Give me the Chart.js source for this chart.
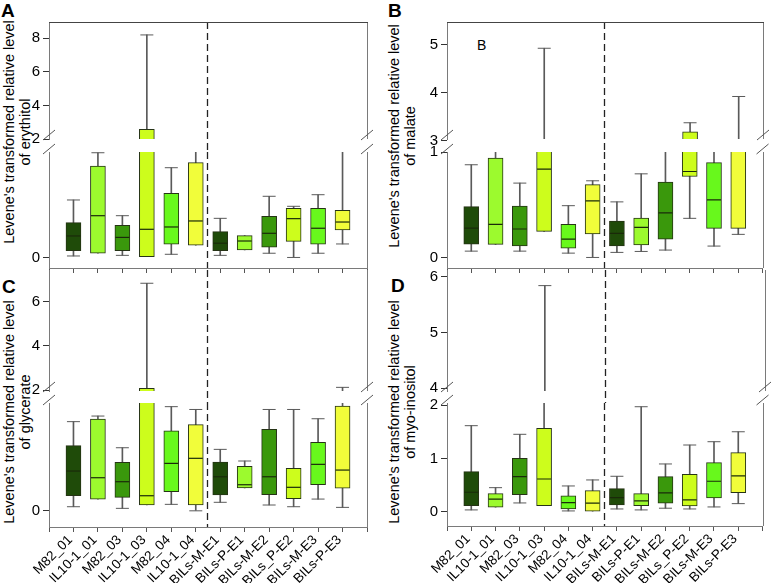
<!DOCTYPE html>
<html>
<head>
<meta charset="utf-8">
<script src="https://cdn.jsdelivr.net/npm/chart.js@4.4.0/dist/chart.umd.min.js"></script>
<style>
    body { margin: 0; background: #fff; }
    #page { position: relative; width: 774px; height: 583px; overflow: hidden; font-family: "Liberation Sans", Arial, sans-serif; color: #000; }
    #page canvas { position: absolute; }
    .letter { position: absolute; font-weight: bold; font-size: 19px; line-height: 19px; }
    .ytitle { position: absolute; width: 260px; height: 32px; text-align: center; font-size: 14.5px; line-height: 16px; transform: rotate(-90deg); white-space: nowrap; }
    .inlabel { position: absolute; font-size: 14px; }
</style>
</head>
<body>
<div id="page">
    <div class="letter" style="left:1px;top:1px;">A</div>
    <div class="letter" style="left:388px;top:1px;">B</div>
    <div class="letter" style="left:2px;top:277px;">C</div>
    <div class="letter" style="left:391px;top:276px;">D</div>
    <div class="ytitle" style="left:-113px;top:116px;">Levene's transformed relative level<br>of erythitol</div>
    <div class="ytitle" style="left:272px;top:120px;">Levene's transformed relative level<br>of malate</div>
    <div class="ytitle" style="left:-113px;top:396px;">Levene's transformed relative level<br>of glycerate</div>
    <div class="ytitle" style="left:272px;top:396px;">Levene's transformed relative level<br>of myo-inositol</div>
    <div class="inlabel" style="left:477px;top:37px;">B</div>
</div>
<script>
// categories and box colours
var categories = ["M82_01", "IL10-1_01", "M82_03", "IL10-1_03", "M82_04", "IL10-1_04",
    "BILs-M-E1", "BILs-P-E1", "BILs-M-E2", "BILs_P-E2", "BILs-M-E3", "BILs-P-E3"];
var boxColors = ["#1f4b09", "#9cfa2e", "#3a980c", "#cdfd1c", "#68f81c", "#f1fd3a",
    "#1f4b09", "#9cfa2e", "#3a980c", "#cdfd1c", "#68f81c", "#f1fd3a"];

// A - erythitol
var erythMin = [0.014, 0.04, 0.02, 0.008, 0.03, 0.116, 0.02, 0.071, 0.04, 0.0, 0.04, 0.128];
var erythQ1 = [0.065, 0.04, 0.065, 0.008, 0.125, 0.116, 0.065, 0.071, 0.097, 0.153, 0.125, 0.26];
var erythMed = [0.204, 0.396, 0.19, 0.267, 0.289, 0.346, 0.135, 0.156, 0.229, 0.368, 0.277, 0.336];
var erythQ3 = [0.33, 0.867, 0.305, 2.57, 0.608, 0.899, 0.245, 0.207, 0.39, 0.466, 0.466, 0.447];
var erythMax = [0.545, 0.993, 0.396, 8.2, 0.851, 1.5, 0.371, 0.207, 0.58, 0.485, 0.595, 1.5];
var erythLowTicks = [0];
var erythHighTicks = [2, 4, 6, 8];

// B - malate
var malateMin = [0.06, 0.124, 0.06, 0.248, 0.041, 0.0, 0.048, 0.057, 0.07, 0.371, 0.108, 0.219];
var malateQ1 = [0.127, 0.124, 0.11, 0.248, 0.089, 0.222, 0.11, 0.12, 0.174, 0.768, 0.276, 0.276];
var malateMed = [0.279, 0.314, 0.27, 0.838, 0.174, 0.536, 0.229, 0.286, 0.422, 0.815, 0.546, 1.4];
var malateQ3 = [0.482, 0.943, 0.486, 2.0, 0.314, 0.691, 0.346, 0.374, 0.714, 3.18, 0.9, 2.0];
var malateMax = [0.879, 1.5, 0.705, 4.93, 0.491, 0.727, 0.527, 0.793, 1.5, 3.37, 1.5, 3.92];
var malateLowTicks = [0, 1];
var malateHighTicks = [3, 4, 5];

// C - glycerate
var glycMin = [0.038, 0.109, 0.023, 0.054, 0.06, 0.0, 0.079, 0.212, 0.054, 0.038, 0.109, 0.032];
var glycQ1 = [0.14, 0.109, 0.125, 0.054, 0.177, 0.054, 0.147, 0.212, 0.15, 0.112, 0.242, 0.209];
var glycMed = [0.369, 0.307, 0.27, 0.14, 0.44, 0.487, 0.316, 0.242, 0.316, 0.218, 0.431, 0.378];
var glycQ3 = [0.604, 0.852, 0.45, 2.08, 0.743, 0.8, 0.453, 0.413, 0.756, 0.394, 0.635, 0.972];
var glycMax = [0.827, 0.879, 0.585, 6.83, 0.966, 0.94, 0.57, 0.462, 0.94, 0.94, 0.854, 2.12];
var glycLowTicks = [0];
var glycHighTicks = [2, 4, 6];

// D - myo-inositol
var inosMin = [0.032, 0.083, 0.163, 0.113, 0.013, 0.0, 0.05, 0.032, 0.064, 0.05, 0.088, 0.15];
var inosQ1 = [0.113, 0.083, 0.319, 0.113, 0.05, 0.0, 0.126, 0.113, 0.158, 0.107, 0.257, 0.356];
var inosMed = [0.364, 0.233, 0.657, 0.613, 0.169, 0.158, 0.263, 0.2, 0.351, 0.22, 0.57, 0.67];
var inosQ3 = [0.75, 0.338, 1.0, 1.565, 0.295, 0.394, 0.432, 0.338, 0.657, 0.7, 0.919, 1.107];
var inosMax = [1.614, 0.45, 1.452, 5.84, 0.482, 0.595, 0.664, 1.97, 0.895, 1.251, 1.313, 1.5];
var inosLowTicks = [0, 1, 2];
var inosHighTicks = [4, 5, 6];

// where the dashed line between the two groups sits (category units)
var groupSplit = 6.45;

Chart.defaults.font.family = '"Liberation Sans", Arial, sans-serif';
Chart.defaults.color = "#000";

$page = document.getElementById("page");

//build the 4 datasets of one box plot
function boxDatasets(minV, q1V, medV, q3V, maxV) {
    var stems = [], boxes = [], medians = [], caps = [];
    for (var i = 0; i < categories.length; ++i) {
        var x = i + 1;
        stems.push({ x: x, y: [minV[i], maxV[i]] });
        boxes.push({ x: x, y: [q1V[i], q3V[i]] });
        medians.push({ x: x, y: medV[i] });
        if (maxV[i] > q3V[i]) caps.push({ x: x, y: maxV[i] });
        if (minV[i] < q1V[i]) caps.push({ x: x, y: minV[i] });
    }
    return [{
        type: 'bar',
        data: stems,
        backgroundColor: "#5a5a5a",
        barThickness: 1,
        grouped: false,
        order: 4,
        clip: 0
    }, {
        type: 'bar',
        data: boxes,
        backgroundColor: boxColors,
        borderColor: "#263316",
        borderWidth: 1,
        borderSkipped: false,
        barThickness: 15,
        grouped: false,
        order: 3,
        clip: 0
    }, {
        type: 'line',
        data: caps,
        showLine: false,
        pointStyle: 'line',
        pointRadius: 6.5,
        pointBorderColor: "#5a5a5a",
        pointBorderWidth: 1,
        order: 2,
        clip: 0
    }, {
        type: 'line',
        data: medians,
        showLine: false,
        pointStyle: 'line',
        pointRadius: 7,
        pointBorderColor: "#1a2a0a",
        pointBorderWidth: 1.2,
        order: 1,
        clip: 0
    }];
}

// separator, frame and axis-break marks
var framePlugin = {
    id: 'frame',
    afterDatasetsDraw: function(chart, args, opts) {
        var ctx = chart.ctx;
        var a = chart.chartArea;
        var sx = Math.round(chart.scales.x.getPixelForValue(groupSplit)) + 0.5;
        ctx.save();
        ctx.strokeStyle = "#222";
        ctx.lineWidth = 1.3;
        ctx.setLineDash([7, 4]);
        ctx.beginPath();
        ctx.moveTo(sx, a.top);
        ctx.lineTo(sx, a.bottom + opts.extendBottom);
        ctx.stroke();
        ctx.setLineDash([]);

        ctx.strokeStyle = "#7a7a7a";
        ctx.lineWidth = 1;
        var rx = Math.round(a.right) + 0.5;
        ctx.beginPath();
        ctx.moveTo(rx, a.top);
        ctx.lineTo(rx, a.bottom);
        ctx.stroke();

        if (opts.topLine) {
            ctx.strokeStyle = "#444";
            ctx.beginPath();
            ctx.moveTo(a.left, Math.round(a.top) + 0.5);
            ctx.lineTo(a.right + 1, Math.round(a.top) + 0.5);
            ctx.stroke();
        }

        // the // marks of the broken axis
        var by = opts.breakAt == 'bottom' ? a.bottom - 4 : a.top - 3;
        ctx.strokeStyle = "#555";
        [a.left, a.right].forEach(function(bx) {
            ctx.beginPath();
            ctx.moveTo(bx - 6, by + 5);
            ctx.lineTo(bx + 6, by - 5);
            ctx.stroke();
        });
        ctx.restore();
    }
};

//make one half (upper or lower) of a broken-axis panel
function makeHalf(frame, area, yMin, yMax, yTicks, showX, showLabels, datasets, deco) {
    var canvas = document.createElement("canvas");
    canvas.width = frame.width;
    canvas.height = frame.height;
    canvas.style.left = frame.left + "px";
    canvas.style.top = frame.top + "px";
    $page.appendChild(canvas);

    var xHeight = frame.top + frame.height - area.bottom;
    var padBottom = showX ? 0 : xHeight;

    new Chart(canvas.getContext('2d'), {
        type: 'bar',
        data: { datasets: datasets },
        plugins: [framePlugin],
        options: {
            responsive: false,
            animation: false,
            devicePixelRatio: 1,
            events: [],
            layout: {
                padding: {
                    left: 0,
                    top: area.top - frame.top,
                    right: frame.left + frame.width - area.right,
                    bottom: padBottom
                }
            },
            plugins: {
                legend: { display: false },
                tooltip: { enabled: false },
                frame: deco
            },
            scales: {
                x: {
                    type: 'linear',
                    min: 0,
                    max: 13,
                    offset: false,
                    display: showX,
                    grid: { offset: false, drawOnChartArea: false, drawTicks: true, tickLength: 5, color: "#555" },
                    border: { color: "#7a7a7a" },
                    ticks: {
                        stepSize: 1,
                        autoSkip: false,
                        minRotation: 45,
                        maxRotation: 45,
                        padding: 0,
                        labelOffset: -3,
                        font: { size: 13.5 },
                        callback: function(v) {
                            return showLabels ? (categories[v - 1] || "") : "";
                        }
                    },
                    afterFit: function(s) { s.height = showX ? xHeight : 0; }
                },
                y: {
                    min: yMin,
                    max: yMax,
                    grid: { drawOnChartArea: false, tickLength: 6, color: "#333" },
                    border: { color: "#7a7a7a" },
                    ticks: { padding: 3, font: { size: 15 } },
                    afterBuildTicks: function(s) {
                        s.ticks = yTicks.map(function(v) { return { value: v }; });
                    },
                    afterFit: function(s) { s.width = area.left - frame.left; }
                }
            }
        }
    });
}

//init one panel: upper and lower half
function initPanel(p) {
    var fw = 387;
    makeHalf({ left: p.left, top: p.upY[0] - 16, width: fw, height: p.upY[1] - p.upY[0] + 32 },
        { left: p.areaX[0], right: p.areaX[1], top: p.upY[0], bottom: p.upY[1] },
        p.upRange[0], p.upRange[1], p.upTicks, false, false,
        boxDatasets(p.min, p.q1, p.med, p.q3, p.max),
        { extendBottom: p.lowY[0] - p.upY[1], topLine: p.topLine, breakAt: 'bottom' });
    makeHalf({ left: p.left, top: p.lowY[0] - 16, width: fw, height: p.bottom - p.lowY[0] + 16 },
        { left: p.areaX[0], right: p.areaX[1], top: p.lowY[0], bottom: p.lowY[1] },
        p.lowRange[0], p.lowRange[1], p.lowTicks, true, p.labels,
        boxDatasets(p.min, p.q1, p.med, p.q3, p.max),
        { extendBottom: 0, topLine: false, breakAt: 'top' });
}

initPanel({
    left: 0, areaX: [49, 367], upY: [22, 139], lowY: [152, 268], bottom: 285,
    upRange: [2, 8.97], lowRange: [-0.1, 1.0], upTicks: erythHighTicks, lowTicks: erythLowTicks,
    min: erythMin, q1: erythQ1, med: erythMed, q3: erythQ3, max: erythMax, topLine: true, labels: false
});
initPanel({
    left: 387, areaX: [447, 763], upY: [22, 139], lowY: [152, 268], bottom: 285,
    upRange: [3.03, 5.48], lowRange: [-0.1, 1.0], upTicks: malateHighTicks, lowTicks: malateLowTicks,
    min: malateMin, q1: malateQ1, med: malateMed, q3: malateQ3, max: malateMax, topLine: true, labels: false
});
initPanel({
    left: 0, areaX: [49, 367], upY: [270, 391], lowY: [403, 527], bottom: 583,
    upRange: [1.955, 7.43], lowRange: [-0.15, 1.0], upTicks: glycHighTicks, lowTicks: glycLowTicks,
    min: glycMin, q1: glycQ1, med: glycMed, q3: glycQ3, max: glycMax, topLine: false, labels: true
});
initPanel({
    left: 387, areaX: [447, 765], upY: [270, 391], lowY: [403, 526], bottom: 583,
    upRange: [3.95, 6.12], lowRange: [-0.27, 2.04], upTicks: inosHighTicks, lowTicks: inosLowTicks,
    min: inosMin, q1: inosQ1, med: inosMed, q3: inosQ3, max: inosMax, topLine: false, labels: true
});
</script>
</body>
</html>
